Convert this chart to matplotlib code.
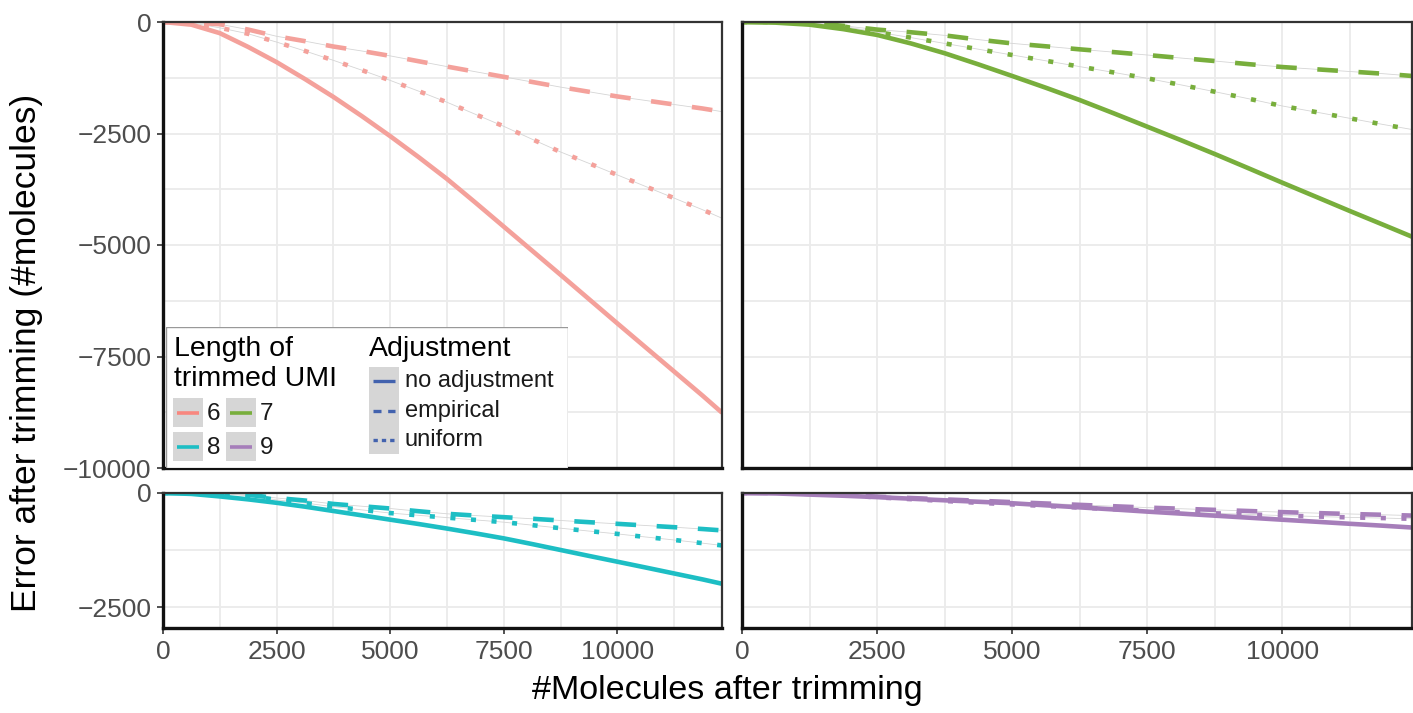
import matplotlib
matplotlib.use('Agg')
import matplotlib.pyplot as plt
from matplotlib.patches import Rectangle
from matplotlib.ticker import MultipleLocator, FixedLocator

plt.rcParams['font.family'] = ['Liberation Sans', 'DejaVu Sans']

# ---------------- data ----------------
x_left = [0, 625, 1250, 1875, 2500, 3125, 3750, 4375, 5000, 5625, 6250, 6875,
          7500, 8125, 8750, 9375, 10000, 10625, 11250, 11875, 12300]
x_right = [0, 625, 1250, 1875, 2500, 3125, 3750, 4375, 5000, 5625, 6250, 6875,
           7500, 8125, 8750, 9375, 10000, 10625, 11250, 11875, 12400]
umi_lengths = ['6', '7', '8', '9']
adjustments = ['no adjustment', 'empirical', 'uniform']

no_adj_6 = [0, -60, -250, -560, -900, -1280, -1680, -2110, -2560, -3030, -3520, -4050,
            -4590, -5130, -5670, -6215, -6760, -7300, -7840, -8380, -8760]
emp_6 = [0, -10, -50, -170, -320, -430, -550, -650, -760, -880, -1000, -1115,
         -1230, -1345, -1460, -1565, -1670, -1760, -1850, -1940, -2010]
uni_6 = [0, -20, -130, -265, -450, -650, -860, -1080, -1310, -1550, -1800, -2070,
         -2340, -2630, -2915, -3170, -3430, -3690, -3950, -4210, -4400]

no_adj_7 = [0, -15, -60, -160, -290, -480, -700, -950, -1210, -1475, -1750, -2045,
            -2347, -2650, -2960, -3280, -3603, -3920, -4238, -4550, -4814]
emp_7 = [0, 0, -20, -85, -170, -230, -300, -395, -480, -545, -613, -675,
         -740, -808, -875, -945, -1010, -1060, -1110, -1160, -1210]
uni_7 = [0, -5, -30, -100, -225, -350, -480, -610, -740, -870, -1000, -1130,
         -1263, -1410, -1563, -1720, -1883, -2020, -2160, -2300, -2410]

no_adj_8 = [0, -20, -75, -140, -215, -300, -395, -490, -585, -680, -780, -885,
            -995, -1120, -1250, -1380, -1507, -1635, -1765, -1895, -1990]
emp_8 = [0, 0, -5, -40, -110, -165, -240, -290, -340, -400, -456, -495,
         -530, -565, -603, -640, -676, -713, -750, -790, -820]
uni_8 = [0, 0, -10, -60, -150, -220, -300, -370, -440, -490, -540, -590,
         -640, -705, -772, -835, -897, -965, -1030, -1100, -1150]

no_adj_9 = [0, -10, -35, -60, -90, -125, -160, -192, -225, -270, -315, -360,
            -408, -452, -497, -541, -586, -630, -675, -718, -757]
emp_9 = [0, 0, -15, -40, -80, -110, -140, -170, -200, -230, -260, -290,
         -320, -345, -370, -395, -420, -440, -460, -478, -495]
uni_9 = [0, 0, -20, -50, -95, -135, -175, -215, -250, -285, -320, -355,
         -390, -420, -445, -470, -495, -515, -535, -550, -565]

series = {
    '6': (x_left, no_adj_6, emp_6, uni_6),
    '7': (x_right, no_adj_7, emp_7, uni_7),
    '8': (x_left, no_adj_8, emp_8, uni_8),
    '9': (x_right, no_adj_9, emp_9, uni_9),
}
colors = {'6': '#F4A19B', '7': '#78AE3C', '8': '#1DBEC4', '9': '#A67EBA'}
y_top_ticks = [0, -2500, -5000, -7500, -10000]
y_bot_ticks = [0, -2500]
x_ticks = [0, 2500, 5000, 7500, 10000]

# ---------------- layout ----------------
W, H = 1413, 713
fig = plt.figure(figsize=(W / 100, H / 100), dpi=100)


def px_rect(x0, y0, x1, y1):
    return [x0 / W, 1 - y1 / H, (x1 - x0) / W, (y1 - y0) / H]


panels = {
    '6': (163, 22, 722, 468),
    '7': (742, 22, 1412, 468),
    '8': (163, 493, 722, 628),
    '9': (742, 493, 1412, 628),
}
ylims = {'6': (-10000, 0), '7': (-10000, 0), '8': (-2960, 0), '9': (-2960, 0)}

lw = 3.3
styles = ['-', (0, (4.5, 4.5)), (0, (1.1, 3.4))]

for key in umi_lengths:
    ax = fig.add_axes(px_rect(*panels[key]))
    xs, na, em, un = series[key]
    ax.set_xlim(0, xs[-1])
    ax.set_ylim(*ylims[key])
    ax.xaxis.set_major_locator(FixedLocator(x_ticks))
    ax.xaxis.set_minor_locator(MultipleLocator(1250))
    ax.yaxis.set_major_locator(FixedLocator(y_top_ticks if key in '67' else y_bot_ticks))
    ax.yaxis.set_minor_locator(MultipleLocator(1250))
    ax.grid(True, which='both', color='#EBEBEB', lw=1.3, zorder=0)
    ax.set_axisbelow(True)
    c = colors[key]
    # thin guide lines
    for ys in (em, un):
        ax.plot(xs, ys, color='#D5D5D5', lw=0.6, zorder=1)
    for ys, ls in zip((un, em, na), (styles[2], styles[1], styles[0])):
        ax.plot(xs, ys, color=c, lw=lw, ls=ls, solid_capstyle='butt',
                dash_capstyle='butt', solid_joinstyle='round', zorder=2)
    for s in ('top', 'right'):
        ax.spines[s].set_color('#333333')
        ax.spines[s].set_linewidth(1.6)
    for s in ('left', 'bottom'):
        ax.spines[s].set_color('#111111')
        ax.spines[s].set_linewidth(2.4)
    ax.tick_params(which='minor', length=0)
    ax.tick_params(which='major', length=4.5, width=1.2, color='#333333',
                   labelsize=19, labelcolor='#4D4D4D', pad=4)
    if key in '67':
        ax.tick_params(axis='x', which='major', length=0, labelbottom=False)
    if key in '79':
        ax.tick_params(axis='y', which='major', length=0, labelleft=False)
    ax.set_facecolor('white')

# axis titles
fig.text(27 / W, 1 - 353 / H, 'Error after trimming (#molecules)', rotation=90,
         ha='center', va='center', fontsize=25.5, color='black')
fig.text(727 / W, 1 - 690 / H, '#Molecules after trimming',
         ha='center', va='center', fontsize=24.6, color='black')

# ---------------- legend ----------------
lx0, ly0, lx1, ly1 = 166, 327, 568, 468
lax = fig.add_axes(px_rect(lx0, ly0, lx1, ly1), zorder=10)
lax.set_xlim(0, lx1 - lx0)
lax.set_ylim(ly1 - ly0, 0)
lax.axis('off')
lax.add_patch(Rectangle((0, 0), lx1 - lx0, ly1 - ly0, facecolor='white',
                        edgecolor='#999999', lw=1.0))
lax.text(8, 22, 'Length of', fontsize=20.5, va='center', ha='left')
lax.text(8, 52, 'trimmed UMI', fontsize=20.5, va='center', ha='left')
lax.text(203, 22, 'Adjustment', fontsize=20.5, va='center', ha='left')

key_bg = '#D6D6D6'
umi_pos = {'6': (7, 71), '7': (60, 71), '8': (7, 105), '9': (60, 105)}
for key in umi_lengths:
    kx, ky = umi_pos[key]
    lax.add_patch(Rectangle((kx, ky), 30, 29, facecolor=key_bg, edgecolor='none'))
    lax.plot([kx + 4, kx + 26], [ky + 14.5, ky + 14.5],
             color=colors[key] if key != '6' else '#F8877F',
             lw=2.6, solid_capstyle='butt')
    lax.text(kx + 34, ky + 15.5, key, fontsize=17.5, va='center', ha='left', color='#1A1A1A')

adj_styles = ['-', (0, (2.4, 2.0)), (0, (1.3, 1.2))]
adj_rows = [40, 69, 98]
for name, ls, ky in zip(adjustments, adj_styles, adj_rows):
    lax.add_patch(Rectangle((203, ky), 30, 29, facecolor=key_bg, edgecolor='none'))
    lax.plot([207, 229], [ky + 14.5, ky + 14.5], color='#4262AE', lw=2.4, ls=ls,
             solid_capstyle='butt', dash_capstyle='butt')
    lax.text(239, ky + 14.5, name, fontsize=17, va='center', ha='left', color='#1A1A1A')

fig.savefig('out.png', dpi=100, facecolor='white')
